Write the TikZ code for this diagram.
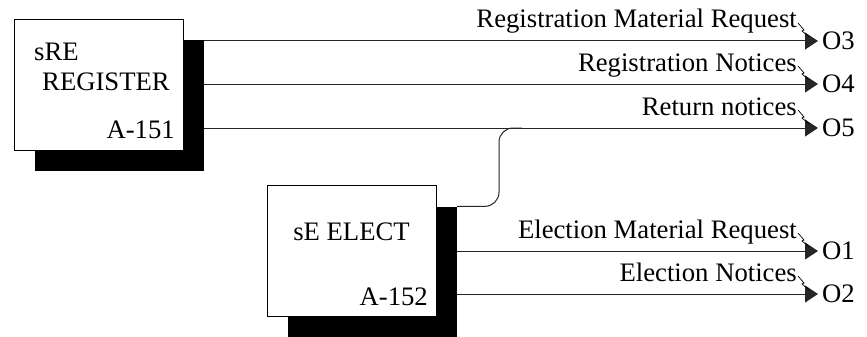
\documentclass[tikz,border=0pt]{standalone}
\usepackage{fontspec}
\setmainfont{Liberation Serif}
\usetikzlibrary{arrows.meta, positioning, calc}

\begin{document}
\begin{tikzpicture}[
  x=1pt, y=-1pt,
  >={Triangle[length=13pt, width=17pt]},
  font=\fontsize{26.7}{30}\selectfont,
  actbox/.style={
    draw=black, line width=0.8pt, fill=white,
    minimum width=169pt, minimum height=131pt, inner sep=0pt
  },
  shadowbox/.style={
    fill=black, minimum width=169pt, minimum height=131pt, inner sep=0pt
  },
  flow/.style={->, line width=1pt, black!85},
  flowlabel/.style={anchor=base east, inner sep=0pt},
  outlabel/.style={anchor=west, inner sep=0pt},
  squig/.style={line width=0.7pt, black},
]

\useasboundingbox (0,0) rectangle (867,337);

% =============================================
% Activity boxes
% =============================================
\node[shadowbox] (regsh) at (119.5,105.5) {};
\node[actbox] (reg) at (98.5,84.5) {};
\node[align=left, anchor=base west, inner sep=0pt] (regname) at (34,90)
  {sRE\\\hspace*{8pt}REGISTER};
\node[anchor=base east, inner sep=0pt] (regnum) at (175,138) {A-151};

\node[shadowbox] (elesh) at (372.5,272) {};
\node[actbox] (ele) at (351.5,251) {};
\node[anchor=base, inner sep=0pt] (elename) at (351.5,240) {sE ELECT};
\node[anchor=base east, inner sep=0pt] (elenum) at (428,305) {A-152};

% =============================================
% Outputs
% =============================================
\node[outlabel] (o3) at (822,41) {O3};
\node[outlabel] (o4) at (822,84) {O4};
\node[outlabel] (o5) at (822,128) {O5};
\node[outlabel] (o1) at (822,251) {O1};
\node[outlabel] (o2) at (822,294) {O2};

\draw[flow, shorten >=4pt] (regsh.east |- o3.west) -- (o3.west);
\draw[flow, shorten >=4pt] (regsh.east |- o4.west) -- (o4.west);
\draw[flow, shorten >=4pt] (regsh.east |- o5.west) -- (o5.west);
\draw[flow, shorten >=4pt] (elesh.east |- o1.west) -- (o1.west);
\draw[flow, shorten >=4pt] (elesh.east |- o2.west) -- (o2.west);

% Return notices from ELECT join O5
\coordinate (merge) at (522,128);
\draw[line width=1pt, black!85, rounded corners=14pt]
  (elesh.north east) -| ($(merge)+(-23,0)$) -- (merge);

% =============================================
% Labels and squiggles
% =============================================
\node[flowlabel] (lbl3) at (797,28) {Registration Material Request};
\node[flowlabel] (lbl4) at (797,71) {Registration Notices};
\node[flowlabel] (lbl5) at (797,115) {Return notices};
\node[flowlabel] (lbl1) at (797,238) {Election Material Request};
\node[flowlabel] (lbl2) at (797,281) {Election Notices};

\draw[squig] ($(lbl3.base east)+(1,-5)$) -- ++(6,7) -- ++(-2,1) -- ++(7,6);
\draw[squig] ($(lbl4.base east)+(1,-5)$) -- ++(6,7) -- ++(-2,1) -- ++(7,6);
\draw[squig] ($(lbl5.base east)+(1,-5)$) -- ++(6,7) -- ++(-2,1) -- ++(7,6);
\draw[squig] ($(lbl1.base east)+(1,-5)$) -- ++(6,7) -- ++(-2,1) -- ++(7,6);
\draw[squig] ($(lbl2.base east)+(1,-5)$) -- ++(6,7) -- ++(-2,1) -- ++(7,6);

\end{tikzpicture}
\end{document}
